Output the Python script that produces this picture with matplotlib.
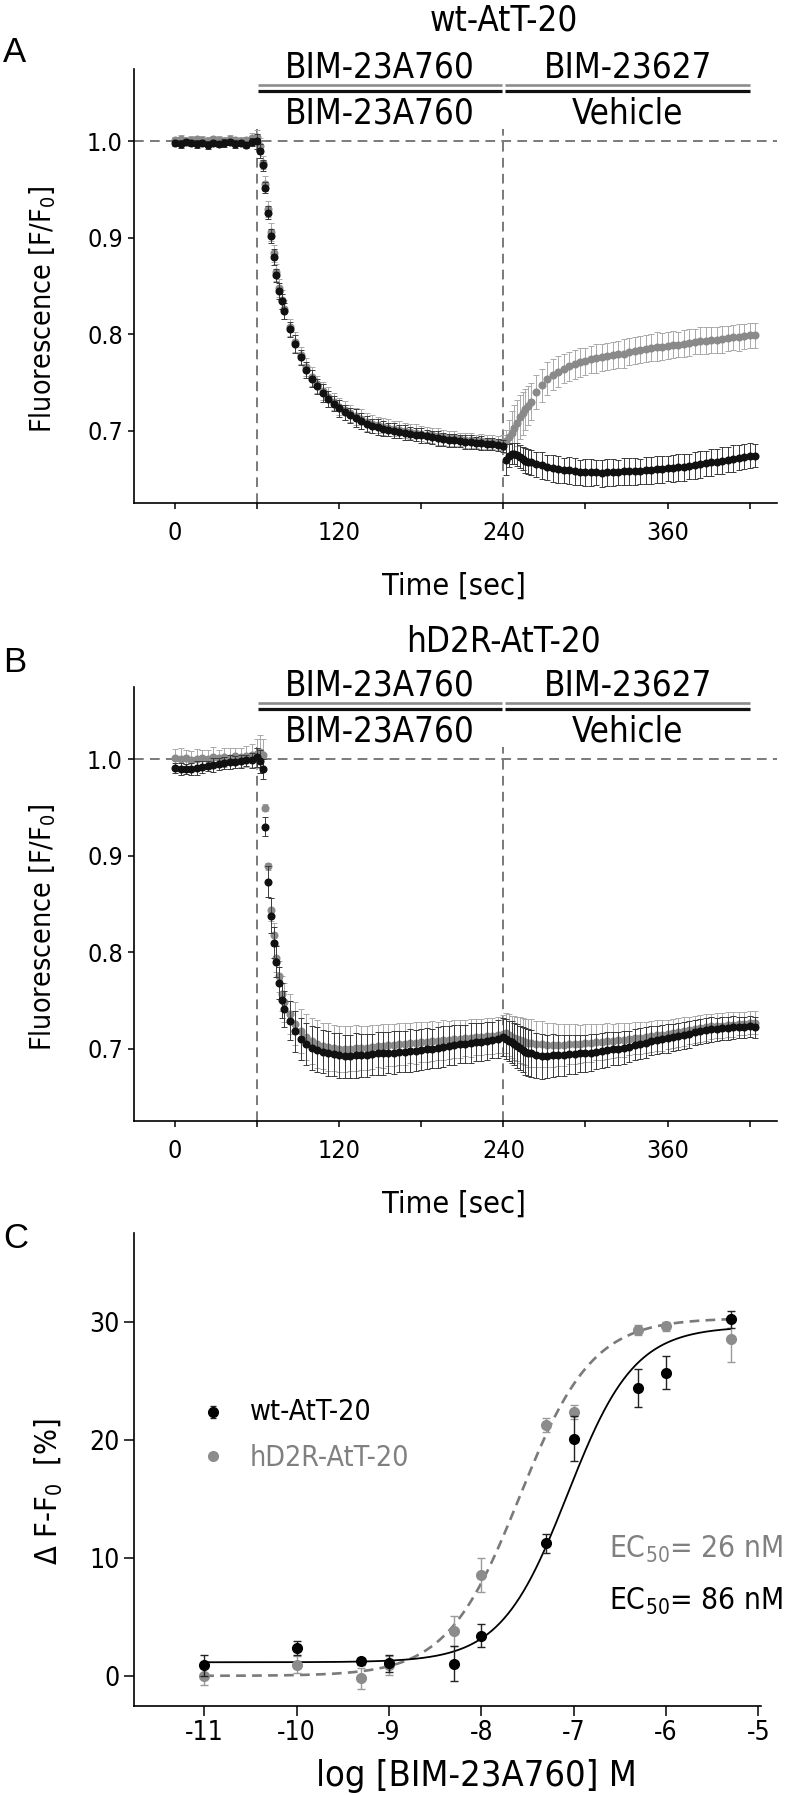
import numpy as np
import matplotlib
matplotlib.use("Agg")
import matplotlib.pyplot as plt

plt.rcParams['font.family'] = ['DejaVu Sans']
plt.rcParams['font.stretch'] = 'condensed'
plt.rcParams['axes.unicode_minus'] = False
plt.rcParams['lines.scale_dashes'] = False

# ---------------- data: time courses (panels A and B) ----------------
time_s = np.concatenate([np.arange(0, 60, 4), np.arange(60, 80, 2), np.arange(80, 240, 4),
                         np.arange(240, 260, 2), np.arange(260, 428, 4)])

# panel A, wt-AtT-20
a_black = [0.998, 0.997, 0.999, 0.998, 0.997, 0.998, 0.996, 0.998, 0.997, 0.998,
           0.999, 0.997, 0.998, 0.996, 0.999,
           1.000, 0.990, 0.975, 0.952, 0.926, 0.902, 0.880, 0.861, 0.845, 0.834,
           0.824, 0.805, 0.790, 0.776, 0.763, 0.754, 0.746, 0.739, 0.733, 0.728,
           0.723, 0.719, 0.716, 0.713, 0.710, 0.707, 0.705, 0.704, 0.702, 0.701,
           0.700, 0.699, 0.698, 0.697, 0.696, 0.695, 0.694, 0.693, 0.692, 0.691,
           0.690, 0.690, 0.689, 0.688, 0.688, 0.687, 0.687, 0.686, 0.686, 0.685,
           0.684, 0.670, 0.674, 0.676, 0.676, 0.675, 0.673, 0.671, 0.669, 0.668,
           0.667, 0.665, 0.664, 0.662, 0.661, 0.660, 0.659, 0.659, 0.658, 0.657,
           0.657, 0.657, 0.657, 0.656, 0.657, 0.657, 0.657, 0.658, 0.658, 0.658,
           0.658, 0.659, 0.659, 0.660, 0.660, 0.661, 0.661, 0.662, 0.662, 0.663,
           0.664, 0.665, 0.666, 0.667, 0.668, 0.669, 0.670, 0.671, 0.672, 0.673,
           0.674, 0.674]
a_black_err = [0.003, 0.004, 0.003, 0.003, 0.004, 0.003, 0.004, 0.003, 0.003, 0.004,
               0.003, 0.004, 0.003, 0.003, 0.004,
               0.008, 0.007, 0.006, 0.006, 0.007, 0.007, 0.008, 0.007, 0.008, 0.008,
               0.008, 0.008, 0.009, 0.008, 0.008, 0.009, 0.008, 0.009, 0.008, 0.008,
               0.009, 0.008, 0.008, 0.009, 0.008, 0.008, 0.007, 0.008, 0.008, 0.007,
               0.008, 0.007, 0.008, 0.007, 0.007, 0.008, 0.007, 0.007, 0.008, 0.007,
               0.007, 0.007, 0.006, 0.007, 0.007, 0.006, 0.007, 0.006, 0.006, 0.006,
               0.006, 0.016, 0.012, 0.011, 0.011, 0.012, 0.012, 0.012, 0.013, 0.013,
               0.013, 0.013, 0.014, 0.013, 0.014, 0.014, 0.013, 0.014, 0.014, 0.013,
               0.014, 0.014, 0.013, 0.014, 0.014, 0.014, 0.013, 0.014, 0.014, 0.014,
               0.013, 0.014, 0.014, 0.014, 0.014, 0.013, 0.014, 0.014, 0.014, 0.013,
               0.014, 0.014, 0.013, 0.014, 0.013, 0.014, 0.013, 0.014, 0.013, 0.013,
               0.013, 0.012]
a_gray = [1.001, 1.002, 1.000, 1.001, 1.002, 1.001, 1.000, 1.002, 1.001, 1.000,
          1.002, 1.001, 1.000, 1.001, 1.003,
          1.004, 0.995, 0.978, 0.956, 0.930, 0.906, 0.884, 0.864, 0.848, 0.836,
          0.826, 0.807, 0.792, 0.778, 0.766, 0.756, 0.748, 0.741, 0.735, 0.730,
          0.725, 0.721, 0.718, 0.715, 0.712, 0.709, 0.707, 0.706, 0.704, 0.703,
          0.702, 0.701, 0.700, 0.699, 0.698, 0.697, 0.696, 0.695, 0.694, 0.693,
          0.692, 0.692, 0.691, 0.690, 0.690, 0.689, 0.689, 0.688, 0.688, 0.687,
          0.688, 0.689, 0.693, 0.698, 0.703, 0.708, 0.714, 0.718, 0.722, 0.726,
          0.730, 0.740, 0.747, 0.754, 0.758, 0.761, 0.764, 0.767, 0.769, 0.771,
          0.772, 0.774, 0.775, 0.776, 0.777, 0.778, 0.779, 0.780, 0.782, 0.783,
          0.784, 0.785, 0.786, 0.787, 0.787, 0.788, 0.789, 0.789, 0.790, 0.791,
          0.792, 0.793, 0.793, 0.794, 0.794, 0.795, 0.796, 0.797, 0.797, 0.798,
          0.799, 0.799]
a_gray_err = [0.004, 0.005, 0.004, 0.005, 0.004, 0.005, 0.005, 0.004, 0.005, 0.004,
              0.005, 0.004, 0.005, 0.004, 0.006,
              0.008, 0.008, 0.007, 0.008, 0.008, 0.009, 0.009, 0.009, 0.009, 0.010,
              0.010, 0.009, 0.010, 0.009, 0.009, 0.010, 0.009, 0.009, 0.010, 0.009,
              0.009, 0.010, 0.009, 0.009, 0.010, 0.009, 0.009, 0.008, 0.009, 0.009,
              0.008, 0.009, 0.008, 0.008, 0.009, 0.008, 0.008, 0.008, 0.009, 0.008,
              0.008, 0.008, 0.007, 0.008, 0.008, 0.007, 0.008, 0.007, 0.007, 0.007,
              0.008, 0.012, 0.018, 0.022, 0.024, 0.024, 0.023, 0.022, 0.021, 0.020,
              0.019, 0.018, 0.017, 0.017, 0.016, 0.016, 0.015, 0.015, 0.015, 0.015,
              0.014, 0.014, 0.015, 0.014, 0.014, 0.014, 0.014, 0.015, 0.014, 0.014,
              0.014, 0.014, 0.014, 0.015, 0.014, 0.014, 0.014, 0.013, 0.014, 0.014,
              0.013, 0.014, 0.014, 0.013, 0.013, 0.014, 0.013, 0.013, 0.014, 0.013,
              0.013, 0.013]

# panel B, hD2R-AtT-20
b_black = [0.991, 0.990, 0.990, 0.990, 0.991, 0.992, 0.993, 0.994, 0.995, 0.996,
           0.997, 0.997, 0.998, 0.999, 0.999,
           1.002, 0.998, 0.990, 0.930, 0.873, 0.838, 0.810, 0.790, 0.768, 0.750,
           0.741, 0.729, 0.718, 0.710, 0.705, 0.701, 0.699, 0.697, 0.695, 0.694,
           0.693, 0.692, 0.692, 0.693, 0.693, 0.693, 0.694, 0.695, 0.695, 0.696,
           0.696, 0.697, 0.697, 0.698, 0.698, 0.699, 0.700, 0.700, 0.701, 0.702,
           0.703, 0.704, 0.705, 0.705, 0.706, 0.707, 0.707, 0.708, 0.709, 0.710,
           0.712, 0.710, 0.708, 0.707, 0.705, 0.703, 0.701, 0.699, 0.697, 0.696,
           0.695, 0.693, 0.692, 0.692, 0.693, 0.693, 0.693, 0.694, 0.694, 0.695,
           0.695, 0.696, 0.697, 0.698, 0.699, 0.700, 0.700, 0.701, 0.702, 0.704,
           0.705, 0.706, 0.708, 0.709, 0.710, 0.711, 0.712, 0.713, 0.714, 0.715,
           0.717, 0.718, 0.719, 0.720, 0.720, 0.721, 0.721, 0.722, 0.722, 0.722,
           0.723, 0.722]
b_black_err = [0.005, 0.006, 0.005, 0.006, 0.007, 0.006, 0.005, 0.007, 0.006, 0.006,
               0.007, 0.006, 0.007, 0.006, 0.008,
               0.010, 0.012, 0.010, 0.010, 0.016, 0.018, 0.016, 0.016, 0.017, 0.018,
               0.019, 0.020, 0.021, 0.022, 0.022, 0.023, 0.023, 0.022, 0.023, 0.022,
               0.023, 0.022, 0.022, 0.023, 0.022, 0.022, 0.021, 0.022, 0.022, 0.021,
               0.022, 0.021, 0.021, 0.022, 0.021, 0.021, 0.021, 0.020, 0.021, 0.021,
               0.020, 0.021, 0.020, 0.020, 0.021, 0.020, 0.020, 0.020, 0.019, 0.020,
               0.020, 0.021, 0.021, 0.022, 0.022, 0.023, 0.023, 0.023, 0.024, 0.024,
               0.024, 0.023, 0.023, 0.022, 0.022, 0.021, 0.021, 0.020, 0.020, 0.019,
               0.019, 0.019, 0.018, 0.018, 0.018, 0.017, 0.017, 0.017, 0.016, 0.016,
               0.016, 0.016, 0.015, 0.015, 0.015, 0.015, 0.014, 0.014, 0.014, 0.014,
               0.013, 0.013, 0.013, 0.013, 0.012, 0.012, 0.012, 0.012, 0.011, 0.011,
               0.011, 0.011]
b_gray = [1.001, 1.000, 1.001, 0.999, 1.000, 1.001, 1.000, 1.002, 1.001, 1.002,
          1.001, 1.003, 1.002, 1.003, 1.004,
          1.006, 1.008, 1.005, 0.950, 0.889, 0.844, 0.818, 0.794, 0.775, 0.757,
          0.748, 0.736, 0.726, 0.718, 0.712, 0.708, 0.705, 0.703, 0.702, 0.701,
          0.700, 0.700, 0.700, 0.701, 0.701, 0.701, 0.702, 0.703, 0.703, 0.704,
          0.704, 0.705, 0.705, 0.706, 0.706, 0.707, 0.707, 0.708, 0.708, 0.709,
          0.709, 0.710, 0.710, 0.711, 0.711, 0.712, 0.712, 0.713, 0.713, 0.714,
          0.715, 0.716, 0.714, 0.712, 0.711, 0.710, 0.709, 0.708, 0.707, 0.706,
          0.706, 0.705, 0.705, 0.704, 0.704, 0.704, 0.704, 0.705, 0.705, 0.705,
          0.706, 0.706, 0.707, 0.707, 0.708, 0.708, 0.709, 0.709, 0.710, 0.711,
          0.711, 0.712, 0.713, 0.714, 0.714, 0.715, 0.716, 0.717, 0.718, 0.719,
          0.720, 0.721, 0.722, 0.723, 0.724, 0.724, 0.725, 0.725, 0.726, 0.726,
          0.727, 0.727]
b_gray_err = [0.010, 0.012, 0.009, 0.010, 0.011, 0.009, 0.010, 0.011, 0.009, 0.010,
              0.011, 0.009, 0.010, 0.011, 0.012,
              0.015, 0.017, 0.016, 0.004, 0.004, 0.012, 0.012, 0.014, 0.016, 0.018,
              0.020, 0.021, 0.022, 0.023, 0.024, 0.024, 0.025, 0.024, 0.025, 0.024,
              0.024, 0.024, 0.023, 0.024, 0.023, 0.023, 0.023, 0.022, 0.023, 0.022,
              0.022, 0.022, 0.022, 0.021, 0.022, 0.021, 0.021, 0.021, 0.020, 0.021,
              0.020, 0.020, 0.020, 0.019, 0.020, 0.019, 0.019, 0.019, 0.019, 0.019,
              0.020, 0.021, 0.022, 0.022, 0.023, 0.023, 0.024, 0.024, 0.024, 0.025,
              0.025, 0.024, 0.024, 0.023, 0.023, 0.022, 0.022, 0.021, 0.021, 0.020,
              0.020, 0.020, 0.019, 0.019, 0.019, 0.018, 0.018, 0.018, 0.017, 0.017,
              0.017, 0.016, 0.016, 0.016, 0.016, 0.015, 0.015, 0.015, 0.015, 0.014,
              0.014, 0.014, 0.014, 0.013, 0.013, 0.013, 0.013, 0.013, 0.012, 0.012,
              0.012, 0.012]

time_ticks = [0, 120, 240, 360]
time_minor = [60, 180, 300, 420]
fluo_ticks = [0.7, 0.8, 0.9, 1.0]
treat_upper = ["BIM-23A760", "BIM-23627"]
treat_lower = ["BIM-23A760", "Vehicle"]

# ---------------- data: concentration-response (panel C) ----------------
log_conc = [-11, -10, -9.3, -9, -8.3, -8, -7.3, -7, -6.3, -6, -5.3]
wt_resp = [0.94, 2.4, 1.3, 1.1, 1.08, 3.46, 11.25, 20.1, 24.4, 25.7, 30.2]
wt_sem = [0.9, 0.6, 0.3, 0.7, 1.5, 1.0, 0.8, 1.9, 1.6, 1.4, 0.7]
hd_resp = [0.0, 1.0, -0.17, 0.94, 3.84, 8.56, 21.27, 22.39, 29.3, 29.6, 28.5]
hd_sem = [0.7, 0.7, 0.9, 0.8, 1.3, 1.45, 0.6, 0.6, 0.4, 0.4, 1.9]
# fitted 4-parameter logistic: bottom, top, logEC50, hill
wt_fit = (1.2, 29.6, np.log10(86e-9), 1.2)
hd_fit = (0.05, 30.3, np.log10(26e-9), 1.1)
conc_ticks = [-11, -10, -9, -8, -7, -6, -5]
resp_ticks = [0, 10, 20, 30]

# ---------------- figure ----------------
W, H = 788, 1795
fig = plt.figure(figsize=(W / 100, H / 100), dpi=100)


def fx(px):
    return px / W


def fy(py):
    return 1 - py / H


BLACK = '#111111'
GRAY = '#8a8a8a'
DASH = '#7a7a7a'


def style_axes(ax, tick_len, labelsize, xpad, ypad):
    for s in ('top', 'right'):
        ax.spines[s].set_visible(False)
    for s in ('left', 'bottom'):
        ax.spines[s].set_linewidth(1.2)
    ax.tick_params(which='both', direction='out', length=tick_len, width=1.1,
                   labelsize=labelsize, color='black')
    ax.tick_params(axis='x', pad=xpad)
    ax.tick_params(axis='y', pad=ypad)


def time_panel(ax, black, black_err, gray, gray_err, title, title_y):
    ax.set_xlim(-30, 440)
    ax.set_ylim(0.625, 1.075)
    style_axes(ax, 4.5, 18, 8.5, 3.5)
    ax.set_xticks(time_ticks)
    ax.set_xticks(time_minor, minor=True)
    ax.set_yticks(fluo_ticks)
    ax.set_yticklabels([f"{v:.1f}" for v in fluo_ticks])
    ax.axhline(1.0, color=DASH, lw=1.4, dashes=(7, 4.5), zorder=1)
    for xv in (60, 240):
        ax.plot([xv, xv], [0.625, 1.013], color=DASH, lw=1.4, dashes=(7, 4.5), zorder=1)
    t = time_s
    ax.errorbar(t, gray, yerr=gray_err, fmt='o', ms=4.8, mfc=GRAY, mec=GRAY,
                ecolor='#a9a9a9', elinewidth=0.7, capsize=2.2, capthick=0.7, zorder=3)
    ax.errorbar(t, black, yerr=black_err, fmt='o', ms=4.8, mfc=BLACK, mec=BLACK,
                ecolor='#3a3a3a', elinewidth=0.7, capsize=2.2, capthick=0.7, zorder=4)
    # treatment header
    segs = [(60.5, 239.0), (241.5, 420.5)]
    for (x0, x1), up, lo in zip(segs, treat_upper, treat_lower):
        xc = (x0 + x1) / 2
        ax.text(xc, 1.0667, up, ha='center', va='baseline', fontsize=25, clip_on=False)
        ax.text(xc, 1.019, lo, ha='center', va='baseline', fontsize=25, clip_on=False)
        ax.plot([x0, x1], [1.0584, 1.0584], color='#8c8c8c', lw=1.9, clip_on=False,
                solid_capstyle='butt')
        ax.plot([x0, x1], [1.0520, 1.0520], color=BLACK, lw=2.3, clip_on=False,
                solid_capstyle='butt')
    ax.text(240, title_y, title, ha='center', va='baseline', fontsize=25, clip_on=False)


axA = fig.add_axes([fx(134), fy(503), (777 - 134) / W, (503 - 69) / H])
time_panel(axA, a_black, a_black_err, a_gray, a_gray_err, "wt-AtT-20", 1.1154)
axB = fig.add_axes([fx(134), fy(1121), (777 - 134) / W, (1121 - 687) / H])
time_panel(axB, b_black, b_black_err, b_gray, b_gray_err, "hD2R-AtT-20", 1.1113)

for off in (0, 618):
    fig.text(fx(454), fy(595 + off), "Time [sec]", ha='center', va='baseline', fontsize=22)
    fig.text(fx(51), fy(309 + off), r"Fluorescence [F/F$_{\mathregular{0}}$]", rotation=90,
             rotation_mode='anchor', ha='center', va='baseline', fontsize=20.5)

# ---------------- panel C ----------------
axC = fig.add_axes([fx(134), fy(1706), (761 - 134) / W, (1706 - 1233) / H])
axC.set_xlim(-11.76, -4.97)
axC.set_ylim(-2.5, 37.5)
style_axes(axC, 7, 19, 3, 3.5)
axC.set_xticks(conc_ticks)
axC.set_yticks(resp_ticks)


def logistic(x, p):
    bottom, top, logec, hill = p
    return bottom + (top - bottom) / (1 + 10 ** ((logec - x) * hill))


xs = np.linspace(log_conc[0], log_conc[-1], 400)
axC.plot(xs, logistic(xs, hd_fit), color=DASH, lw=1.9, dashes=(7, 4.5), zorder=2)
axC.plot(xs, logistic(xs, wt_fit), color='black', lw=1.3, zorder=2)
axC.errorbar(log_conc, hd_resp, yerr=hd_sem, fmt='o', ms=7, mfc='#8c8c8c', mec='#8c8c8c',
             ecolor='#9a9a9a', elinewidth=1.0, capsize=3, capthick=1.0, zorder=3)
axC.errorbar(log_conc, wt_resp, yerr=wt_sem, fmt='o', ms=7, mfc='black', mec='black',
             ecolor='#222222', elinewidth=1.0, capsize=3, capthick=1.0, zorder=4)

# legend (manual)
lx = (213 - 134) / 627
axC.errorbar([lx], [(1706 - 1412) / 473], yerr=[0.012], fmt='o', ms=7, mfc='black', mec='black',
             ecolor='#222222', elinewidth=1.0, capsize=2, transform=axC.transAxes, clip_on=False)
axC.plot([lx], [(1706 - 1456) / 473], 'o', ms=7, color='#8c8c8c', transform=axC.transAxes,
         clip_on=False)
fig.text(fx(250), fy(1420), "wt-AtT-20", ha='left', va='baseline', fontsize=20.5, color='black')
fig.text(fx(250), fy(1466), "hD2R-AtT-20", ha='left', va='baseline', fontsize=20.5, color='#808080')

fig.text(fx(783), fy(1558), r"EC$_{\mathregular{50}}$= 26 nM", ha='right', va='baseline',
         fontsize=21.5, color='#808080')
fig.text(fx(783), fy(1610), r"EC$_{\mathregular{50}}$= 86 nM", ha='right', va='baseline',
         fontsize=21.5, color='black')

fig.text(fx(476), fy(1786), "log [BIM-23A760] M", ha='center', va='baseline', fontsize=26)
fig.text(fx(58), fy(1492), r"Δ F-F$_{\mathregular{0}}$  [%]", rotation=90, rotation_mode='anchor',
         ha='center', va='baseline', fontsize=22)

# panel letters
for letter, bl in (("A", 62), ("B", 672), ("C", 1248)):
    fig.text(fx(3), fy(bl), letter, ha='left', va='baseline', fontsize=25,
             family='Liberation Sans', stretch='normal')

fig.savefig("out.png", dpi=100)
